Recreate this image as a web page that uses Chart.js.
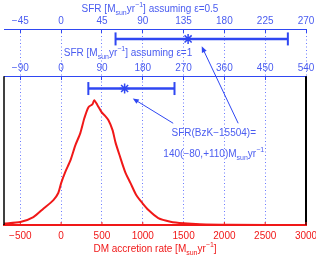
<!DOCTYPE html>
<html>
<head>
<meta charset="utf-8">
<script src="https://cdn.jsdelivr.net/npm/chart.js@4"></script>
<style>
  body { margin: 0; background: #fff; }
  #wrap { position: relative; width: 316px; height: 257px; }
</style>
</head>
<body>
<div id="wrap"><canvas id="sfrChart"></canvas></div>
<script>
// DM accretion rate distribution (arbitrary units, peak ~1)
var dmRate = [-700, -500, -340, -215, -95, -35, 0, 50, 115, 175, 235, 285, 335, 385, 405, 445, 495, 530, 580, 630, 665, 715, 785, 850, 920, 995, 1070, 1190, 1340, 1500, 1700, 2070, 3000];
var dmProb = [0.012, 0.024, 0.064, 0.133, 0.201, 0.258, 0.338, 0.427, 0.523, 0.644, 0.741, 0.862, 0.950, 0.974, 1.006, 0.966, 0.910, 0.886, 0.845, 0.765, 0.668, 0.564, 0.427, 0.338, 0.242, 0.177, 0.121, 0.056, 0.027, 0.014, 0.006, 0.002, 0];

// axes
var dmMin = -700, dmMax = 3000;
var dmTicks = [-500, 0, 500, 1000, 1500, 2000, 2500, 3000];
var sfrTicksEps1 = [-90, 0, 90, 180, 270, 360, 450, 540];
var sfrTicksEps05 = [-45, 0, 45, 90, 135, 180, 225, 270];
var sfrPerDmEps1 = 0.18, sfrPerDmEps05 = 0.09;

// SFR(BzK-15504) = 140 (-80, +110)
var sfrBest = 140, sfrErrLow = 80, sfrErrHigh = 110;

// vertical levels (y units): plot box top, band top, error bars, annotation
var frameTop = 1.2, yTop = 1.58;
var barLevelEps1 = 1.1, barLevelEps05 = 1.5;
var arrows = [
  {axis: 'x2', tipX: 158, tipY: 1.02, tailDm: 1373, tailY: 0.82},
  {axis: 'x3', tipX: 155, tipY: 1.44, tailDm: 2169, tailY: 0.82}
];
var noteDm = 1870, noteY1 = 0.74, noteY2 = 0.57;

var blue = '#2f47f2', textBlue = '#4a5cf0', red = '#f01818', gridBlue = '#6a7aff';
var fam = '"Liberation Sans", Arial, sans-serif';
var font = {family: fam, size: 10};

function fmt(v) { return v < 0 ? '\u2212' + Math.abs(v) : String(v); }
function fixTicks(list) { return function(s) { s.ticks = list.map(function(v) { return {value: v}; }); }; }
function noPad(s) { s.paddingLeft = 0; s.paddingRight = 0; }

function curve() {
  return dmRate.map(function(x, i) { return {x: x, y: dmProb[i]}; });
}
function errBar(level) {
  return [{x: sfrBest - sfrErrLow, y: level}, {x: sfrBest + sfrErrHigh, y: level}];
}

// text with _{sub} and ^{sup}
function drawRich(ctx, str, cx, cy, size, color) {
  var parts = str.split(/(_\{[^}]*\}|\^\{[^}]*\})/).filter(function(p) { return p; });
  var items = parts.map(function(p) {
    if (p[0] == '_' ) return {t: p.slice(2, -1), s: size * 0.7, dy: size * 0.38};
    if (p[0] == '^') return {t: p.slice(2, -1), s: size * 0.7, dy: -size * 0.42};
    return {t: p, s: size, dy: 0};
  });
  var total = 0;
  items.forEach(function(it) {
    ctx.font = it.s + 'px ' + fam;
    it.w = ctx.measureText(it.t).width;
    total += it.w;
  });
  var x = cx - total / 2;
  ctx.fillStyle = color;
  ctx.textBaseline = 'middle';
  ctx.textAlign = 'left';
  items.forEach(function(it) {
    ctx.font = it.s + 'px ' + fam;
    ctx.fillText(it.t, x, cy + it.dy);
    x += it.w;
  });
}

function arrow(ctx, x1, y1, x2, y2) {
  var a = Math.atan2(y2 - y1, x2 - x1), L = 6, W = 2.6;
  ctx.beginPath();
  ctx.moveTo(x1, y1);
  ctx.lineTo(x2 - Math.cos(a) * L * 0.8, y2 - Math.sin(a) * L * 0.8);
  ctx.stroke();
  ctx.beginPath();
  ctx.moveTo(x2, y2);
  ctx.lineTo(x2 - Math.cos(a) * L + Math.sin(a) * W, y2 - Math.sin(a) * L - Math.cos(a) * W);
  ctx.lineTo(x2 - Math.cos(a) * L - Math.sin(a) * W, y2 - Math.sin(a) * L + Math.cos(a) * W);
  ctx.closePath();
  ctx.fill();
}

var decor = {
  id: 'decor',
  afterDatasetsDraw: function(chart) {
    var ctx = chart.ctx, a = chart.chartArea, s = chart.scales;
    var yf = s.y.getPixelForValue(frameTop);
    ctx.save();
    // black box sides
    ctx.strokeStyle = '#000';
    ctx.lineWidth = 1.5;
    ctx.beginPath(); ctx.moveTo(a.left, yf); ctx.lineTo(a.left, a.bottom); ctx.stroke();
    ctx.lineWidth = 2;
    ctx.beginPath(); ctx.moveTo(a.right, yf); ctx.lineTo(a.right, a.bottom); ctx.stroke();
    // small red ticks on bottom axis
    ctx.strokeStyle = red;
    ctx.lineWidth = 1;
    dmTicks.forEach(function(v) {
      var px = s.x.getPixelForValue(v);
      ctx.beginPath(); ctx.moveTo(px, a.bottom); ctx.lineTo(px, a.bottom - 3); ctx.stroke();
    });
    // arrows
    ctx.strokeStyle = blue;
    ctx.fillStyle = blue;
    ctx.lineWidth = 1;
    arrows.forEach(function(ar) {
      arrow(ctx, s.x.getPixelForValue(ar.tailDm), s.y.getPixelForValue(ar.tailY),
        s[ar.axis].getPixelForValue(ar.tipX), s.y.getPixelForValue(ar.tipY));
    });
    // annotation
    var nx = s.x.getPixelForValue(noteDm);
    drawRich(ctx, 'SFR(BzK\u221215504)=', nx, s.y.getPixelForValue(noteY1), 10, textBlue);
    drawRich(ctx, '140(\u221280,+110)M_{sun}yr^{\u22121}', nx, s.y.getPixelForValue(noteY2), 10, textBlue);
    // axis titles
    var cx = (a.left + a.right) / 2;
    drawRich(ctx, 'SFR [M_{sun}yr^{\u22121}] assuming \u03b5=0.5', cx - 5, a.top - 20, 10, textBlue);
    drawRich(ctx, 'SFR [M_{sun}yr^{\u22121}] assuming \u03b5=1', cx - 27, yf - 23, 10, textBlue);
    drawRich(ctx, 'DM accretion rate [M_{sun}yr^{\u22121}]', cx, a.bottom + 24, 10, red);
    ctx.restore();
  }
};

function sfrAxis(factor, ticks, level) {
  return {
    type: 'linear',
    position: {y: level},
    min: dmMin * factor,
    max: dmMax * factor,
    afterBuildTicks: fixTicks(ticks),
    afterFit: noPad,
    grid: {drawOnChartArea: false, drawTicks: true, tickLength: 3, color: blue},
    border: {color: blue, width: 1},
    ticks: {color: textBlue, font: font, padding: -17, autoSkip: false, maxRotation: 0, callback: fmt}
  };
}

var cfg = {
  type: 'scatter',
  data: {
    datasets: [
      {data: curve(), showLine: true, borderColor: red, borderWidth: 2, pointRadius: 0, tension: 0.25, xAxisID: 'x'},
      {data: errBar(barLevelEps1), showLine: true, borderColor: blue, borderWidth: 2.5, xAxisID: 'x2',
        pointStyle: 'line', rotation: 90, pointRadius: 6.5, pointBorderWidth: 2, pointBorderColor: blue},
      {data: [{x: sfrBest, y: barLevelEps1}], borderColor: blue, xAxisID: 'x2',
        pointStyle: 'star', pointRadius: 5, pointBorderWidth: 1.5, pointBorderColor: blue},
      {data: errBar(barLevelEps05), showLine: true, borderColor: blue, borderWidth: 2.5, xAxisID: 'x3',
        pointStyle: 'line', rotation: 90, pointRadius: 6.5, pointBorderWidth: 2, pointBorderColor: blue},
      {data: [{x: sfrBest, y: barLevelEps05}], borderColor: blue, xAxisID: 'x3',
        pointStyle: 'star', pointRadius: 5, pointBorderWidth: 1.5, pointBorderColor: blue}
    ]
  },
  options: {
    responsive: true,
    maintainAspectRatio: false,
    animation: false,
    events: [],
    layout: {autoPadding: false, padding: {top: 29, left: 4, right: 10, bottom: 0}},
    plugins: {legend: {display: false}, tooltip: {enabled: false}},
    scales: {
      x: {
        type: 'linear', position: 'bottom', min: dmMin, max: dmMax,
        afterBuildTicks: fixTicks(dmTicks),
        afterFit: function(s) { noPad(s); s.height = 32; },
        grid: {color: gridBlue, lineWidth: 1, drawTicks: false},
        border: {color: red, width: 2, dash: [1, 2.5]},
        ticks: {color: red, font: font, padding: 5, autoSkip: false, maxRotation: 0, callback: fmt}
      },
      x2: sfrAxis(sfrPerDmEps1, sfrTicksEps1, frameTop),
      x3: sfrAxis(sfrPerDmEps05, sfrTicksEps05, yTop),
      y: {type: 'linear', min: 0, max: yTop, display: false}
    }
  },
  plugins: [decor]
};

new Chart(document.getElementById('sfrChart'), cfg);
</script>
</body>
</html>
